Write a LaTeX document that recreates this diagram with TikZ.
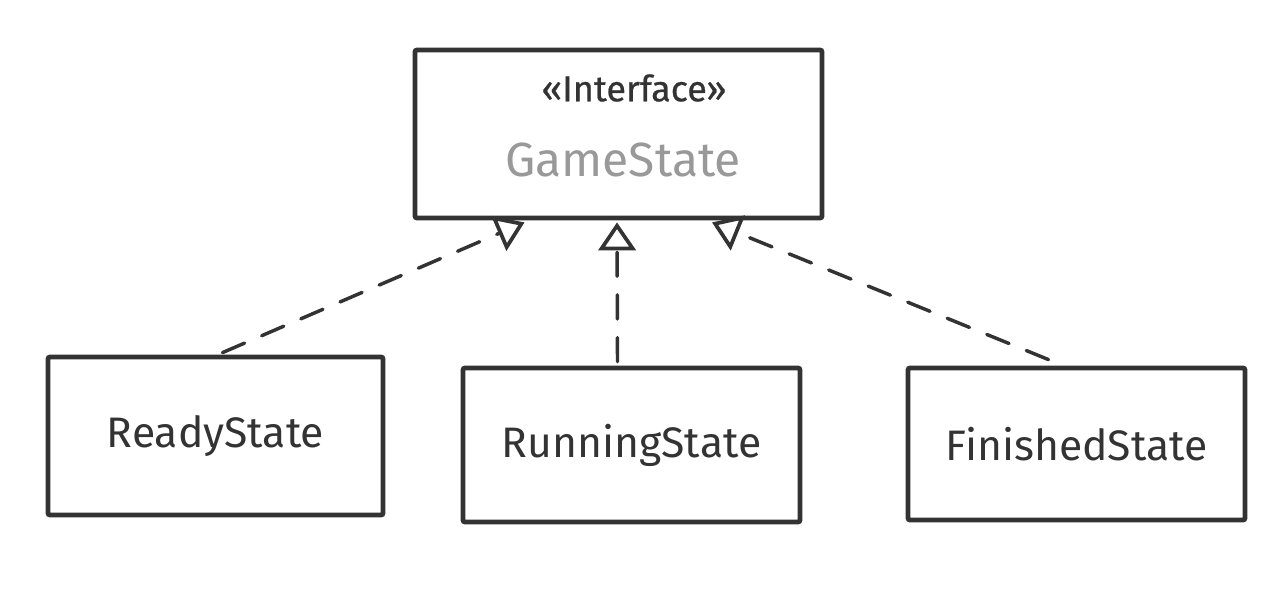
\documentclass[tikz,border=0pt]{standalone}
\usepackage{fontspec}
\setmainfont{Fira Sans}
\usetikzlibrary{arrows.meta,calc}
\definecolor{ink}{HTML}{333333}
\definecolor{greyname}{HTML}{999999}
\tikzset{
  box/.style={draw=ink, line width=3.6pt, rectangle, inner sep=0pt, rounded corners=1.5pt},
  classname/.style={text=ink, font=\fontsize{32}{36}\selectfont},
  realize/.style={draw=ink, line width=2.6pt, dash pattern=on 18pt off 14pt, line cap=round,
    -{Triangle[open, length=21pt, width=28pt, line width=2.8pt]}},
}
\begin{document}
\begin{tikzpicture}[x=0.75pt,y=-0.75pt]
\useasboundingbox (0,0) rectangle (1280,601);
\node[box, minimum width=305.25pt, minimum height=126pt] (game) at (618.5,134) {};
\node[text=ink, font=\fontsize{27}{30}\selectfont\addfontfeatures{FakeBold=0.6}] (stereo) at (634,88) {«Interface»};
\node[text=greyname, font=\fontsize{36}{40}\selectfont] (gname) at (623,160) {GameState};
\node[box, minimum width=251.25pt, minimum height=118.5pt, classname] (ready) at (215.5,436) {ReadyState};
\node[box, minimum width=252.75pt, minimum height=115.5pt, classname] (running) at (631.5,445) {RunningState};
\node[box, minimum width=252.75pt, minimum height=114pt, classname] (finished) at (1076.5,444) {FinishedState};
\draw[realize] ($(ready.north)+(7,-2)$) -- ($(game.south)+(-94,2)$);
\draw[realize] ($(running.north)+(-14,-4)$) -- ($(game.south)+(-1.5,2)$);
\draw[realize] ($(finished.north)+(-28,-6)$) -- ($(game.south)+(93.5,2)$);
\end{tikzpicture}
\end{document}
